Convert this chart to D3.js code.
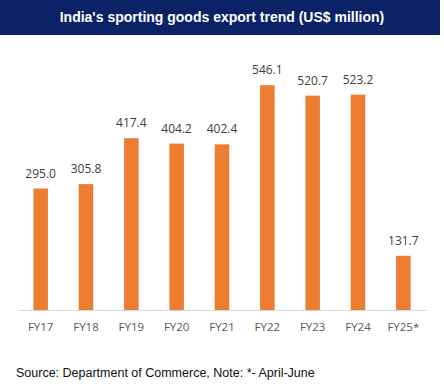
<!DOCTYPE html>
<html lang="en">
<head>
    <meta charset="UTF-8">
    <title>India's sporting goods export trend</title>
    <script src="https://d3js.org/d3.v7.min.js"></script>
    <style>
        body { margin: 0; background: #fff; }
        svg { display: block; }
        .title { font-family: "Liberation Sans", Arial, sans-serif; font-weight: bold; font-size: 14px; fill: #fff; }
        .value { font-family: "Open Sans", "DejaVu Sans", sans-serif; font-size: 12px; fill: #404040; }
        .tick text { font-family: "Open Sans", "DejaVu Sans", sans-serif; font-size: 11.5px; fill: #595959; }
        .source { font-family: "Liberation Sans", Arial, sans-serif; font-size: 12.5px; fill: #111; }
    </style>
</head>
<body>
    <script>
        const years = ["FY17", "FY18", "FY19", "FY20", "FY21", "FY22", "FY23", "FY24", "FY25*"];
        const exports = [295.0, 305.8, 417.4, 404.2, 402.4, 546.1, 520.7, 523.2, 131.7];

        const width = 444, height = 388;
        const svg = d3.select("body").append("svg")
            .attr("width", width)
            .attr("height", height);

        // title banner
        svg.append("rect")
            .attr("x", 0).attr("y", 0)
            .attr("width", 440).attr("height", 35)
            .attr("fill", "#0c2266");
        svg.append("text")
            .attr("class", "title")
            .attr("x", 222).attr("y", 22)
            .attr("text-anchor", "middle")
            .text("India's sporting goods export trend (US$ million)");

        const x = d3.scaleBand()
            .domain(years)
            .range([18, 426])
            .paddingInner(0.68)
            .paddingOuter(0.34);

        const y = d3.scaleLinear()
            .domain([0, 600])
            .range([310, 63]);

        // bars
        svg.append("g")
            .selectAll("rect")
            .data(exports)
            .enter().append("rect")
            .attr("x", (d, i) => x(years[i]))
            .attr("y", d => y(d))
            .attr("width", x.bandwidth())
            .attr("height", d => y(0) - y(d))
            .attr("fill", "#ed7d31");

        // value labels
        svg.append("g")
            .selectAll("text")
            .data(exports)
            .enter().append("text")
            .attr("class", "value")
            .attr("x", (d, i) => x(years[i]) + x.bandwidth() / 2)
            .attr("y", d => y(d) - 11)
            .attr("text-anchor", "middle")
            .text(d => d.toFixed(1));

        // x axis
        const xAxis = svg.append("g")
            .attr("transform", "translate(0,310)")
            .call(d3.axisBottom(x).tickSize(0).tickPadding(13));
        xAxis.select(".domain").attr("stroke", "#d9d9d9").attr("stroke-width", 1);

        svg.append("text")
            .attr("class", "source")
            .attr("x", 16).attr("y", 377)
            .text("Source: Department of Commerce, Note: *- April-June");
    </script>
</body>
</html>
